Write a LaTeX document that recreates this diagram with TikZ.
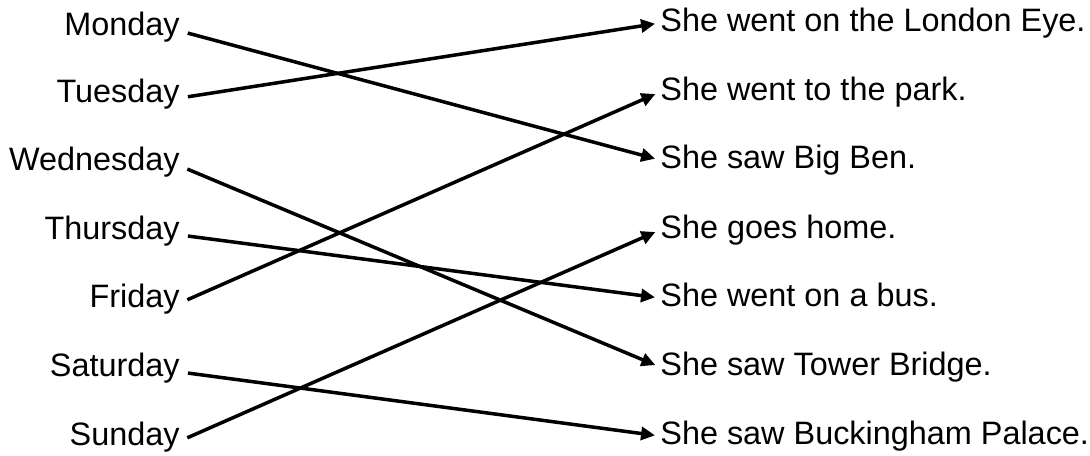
\documentclass[tikz,border=0pt]{standalone}
\usepackage{fontspec}
\setmainfont{Liberation Sans}
\usepackage{tikz}
\usetikzlibrary{arrows.meta}

\begin{document}
\begin{tikzpicture}[x=0.5pt,y=-0.5pt,
		day/.style={anchor=east,inner sep=0pt,text height=11.5pt,text depth=3pt,font=\fontsize{16.2}{19}\selectfont},
		event/.style={anchor=west,inner sep=0pt,text height=11.5pt,text depth=3pt,font=\fontsize{16.2}{19}\selectfont},
		match/.style={line width=1.75pt,-{Triangle[length=7pt,width=6.5pt]},shorten >=2.5pt,shorten <=4pt}]
				\useasboundingbox (0,0) rectangle (1090,455);
				\node[day] (mon) at (180,27) {Monday};
				\node[day] (tue) at (180,94) {Tuesday};
				\node[day] (wed) at (180,162) {Wednesday};
				\node[day] (thu) at (180,231) {Thursday};
				\node[day] (fri) at (180,299) {Friday};
				\node[day] (sat) at (180,368) {Saturday};
				\node[day] (sun) at (180,437) {Sunday};
				\node[event] (eye) at (660,23) {She went on the London Eye.};
				\node[event] (park) at (660,92) {She went to the park.};
				\node[event] (ben) at (660,160) {She saw Big Ben.};
				\node[event] (home) at (660,230) {She goes home.};
				\node[event] (bus) at (660,298) {She went on a bus.};
				\node[event] (tower) at (660,367) {She saw Tower Bridge.};
				\node[event] (palace) at (660,436) {She saw Buckingham Palace.};
				\draw[match] ([yshift=-2pt]mon.east) -- (ben.west);
				\draw[match] ([yshift=-2pt]tue.east) -- (eye.west);
				\draw[match] ([yshift=-2pt]wed.east) -- (tower.west);
				\draw[match] ([yshift=-2pt]thu.east) -- (bus.west);
				\draw[match] ([yshift=-2pt]fri.east) -- (park.west);
				\draw[match] ([yshift=-2pt]sat.east) -- (palace.west);
				\draw[match] ([yshift=-2pt]sun.east) -- (home.west);
			\end{tikzpicture}
\end{document}
